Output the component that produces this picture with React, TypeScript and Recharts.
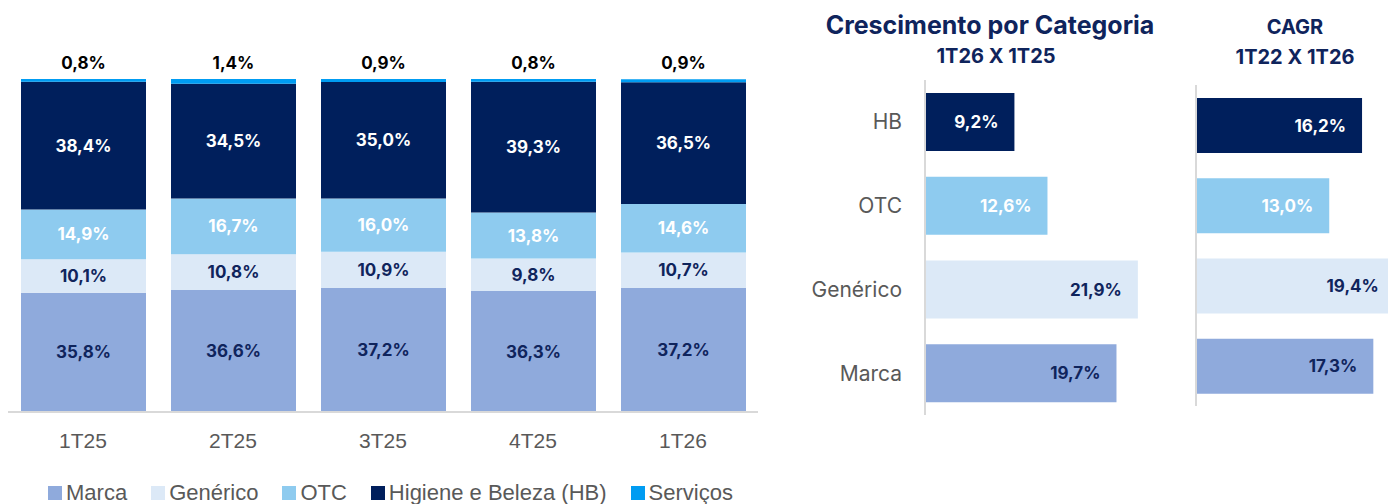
import { Bar, BarChart, Cell, LabelList, XAxis, YAxis } from "recharts";

const quarters = ["1T25", "2T25", "3T25", "4T25", "1T26"];
const marca = [35.8, 36.6, 37.2, 36.3, 37.2];
const generico = [10.1, 10.8, 10.9, 9.8, 10.7];
const otc = [14.9, 16.7, 16.0, 13.8, 14.6];
const hb = [38.4, 34.5, 35.0, 39.3, 36.5];
const servicos = [0.8, 1.4, 0.9, 0.8, 0.9];

const growthCats = ["HB", "OTC", "Genérico", "Marca"];
const growth = [9.2, 12.6, 21.9, 19.7];
const cagr = [16.2, 13.0, 19.4, 17.3];

const C_MARCA = "#8faadc";
const C_GEN = "#dce9f7";
const C_OTC = "#8ecbef";
const C_HB = "#001f5c";
const C_SERV = "#009cf2";
const NAVY = "#0f245c";
const catColors = [C_HB, C_OTC, C_GEN, C_MARCA];
const catText = ["#ffffff", "#ffffff", NAVY, NAVY];

const FONT = "Inter, 'Noto Sans', sans-serif";
const TICK_FONT = "'Liberation Sans', Arial, sans-serif";

const fmt = (v: any) => Number(v).toFixed(1).replace(".", ",") + "%";

const mixData = quarters.map((q, i) => ({
  q,
  marca: marca[i],
  generico: generico[i],
  otc: otc[i],
  hb: hb[i],
  servicos: servicos[i],
}));
const growthData = growthCats.map((c, i) => ({ cat: c, v: growth[i] }));
const cagrData = growthCats.map((c, i) => ({ cat: c, v: cagr[i] }));

const labelStyle = { fontFamily: FONT, fontWeight: 700, fontSize: 17 };

function endLabel(props: any) {
  const { x, y, width, height, value, index } = props;
  return (
    <text
      x={x + width - 16}
      y={y + height / 2}
      textAnchor="end"
      dominantBaseline="central"
      fill={catText[index]}
      style={labelStyle}
    >
      {fmt(value)}
    </text>
  );
}

const legendItems = [
  { name: "Marca", color: C_MARCA },
  { name: "Genérico", color: C_GEN },
  { name: "OTC", color: C_OTC },
  { name: "Higiene e Beleza (HB)", color: C_HB },
  { name: "Serviços", color: C_SERV },
];

export default function App() {
  return (
    <div
      style={{
        position: "fixed",
        left: 0,
        top: 0,
        width: 1388,
        height: 504,
        overflow: "hidden",
        background: "#fff",
      }}
    >
      {/* mix por trimestre */}
      <div style={{ position: "absolute", left: 0, top: 0 }}>
        <BarChart
          width={765}
          height={504}
          data={mixData}
          margin={{ top: 79, right: 7, left: 8, bottom: 62 }}
          barSize={125}
        >
          <XAxis
            dataKey="q"
            height={30}
            tickLine={false}
            tickSize={0}
            tickMargin={21}
            axisLine={{ stroke: "#d9d9d9", strokeWidth: 2 }}
            tick={{ fill: "#595959", fontSize: 21, fontFamily: TICK_FONT }}
          />
          <YAxis hide domain={[0, 100]} />
          <Bar dataKey="marca" stackId="a" fill={C_MARCA} isAnimationActive={false}>
            <LabelList dataKey="marca" position="center" formatter={fmt} fill={NAVY} style={labelStyle} />
          </Bar>
          <Bar dataKey="generico" stackId="a" fill={C_GEN} isAnimationActive={false}>
            <LabelList dataKey="generico" position="center" formatter={fmt} fill={NAVY} style={labelStyle} />
          </Bar>
          <Bar dataKey="otc" stackId="a" fill={C_OTC} isAnimationActive={false}>
            <LabelList dataKey="otc" position="center" formatter={fmt} fill="#fff" style={labelStyle} />
          </Bar>
          <Bar dataKey="hb" stackId="a" fill={C_HB} isAnimationActive={false}>
            <LabelList dataKey="hb" position="center" formatter={fmt} fill="#fff" style={labelStyle} />
          </Bar>
          <Bar dataKey="servicos" stackId="a" fill={C_SERV} isAnimationActive={false}>
            <LabelList dataKey="servicos" position="top" offset={10} formatter={fmt} fill="#000" style={labelStyle} />
          </Bar>
        </BarChart>
      </div>

      {/* legenda */}
      <div
        style={{
          position: "absolute",
          left: 48,
          top: 480,
          display: "flex",
          alignItems: "center",
          fontFamily: TICK_FONT,
          fontSize: 22,
          color: "#595959",
          whiteSpace: "nowrap",
        }}
      >
        {legendItems.map((it) => (
          <div key={it.name} style={{ display: "flex", alignItems: "center", marginRight: 24 }}>
            <span style={{ width: 14, height: 14, background: it.color, display: "inline-block", marginRight: 4 }} />
            <span>{it.name}</span>
          </div>
        ))}
      </div>

      {/* crescimento por categoria */}
      <div
        style={{
          position: "absolute",
          left: 790,
          top: 8,
          width: 400,
          textAlign: "center",
          fontFamily: FONT,
          fontWeight: 700,
          color: NAVY,
        }}
      >
        <div style={{ fontSize: 25, lineHeight: "34px" }}>Crescimento por Categoria</div>
        <div style={{ fontSize: 20, lineHeight: "28px", marginLeft: 12 }}>1T26 X 1T25</div>
      </div>
      <div style={{ position: "absolute", left: 800, top: 0 }}>
        <BarChart
          layout="vertical"
          width={368}
          height={504}
          data={growthData}
          margin={{ top: 80, right: 0, left: 0, bottom: 89 }}
          barSize={58}
        >
          <XAxis type="number" hide domain={[0, 25]} />
          <YAxis
            type="category"
            dataKey="cat"
            width={125}
            tickLine={false}
            tickSize={0}
            tickMargin={23}
            axisLine={{ stroke: "#d9d9d9", strokeWidth: 2 }}
            tick={{ fill: "#595959", fontSize: 21, fontFamily: FONT }}
          />
          <Bar dataKey="v" isAnimationActive={false}>
            {growthData.map((d, i) => (
              <Cell key={d.cat} fill={catColors[i]} />
            ))}
            <LabelList dataKey="v" content={endLabel} />
          </Bar>
        </BarChart>
      </div>

      {/* CAGR */}
      <div
        style={{
          position: "absolute",
          left: 1195,
          top: 11,
          width: 200,
          textAlign: "center",
          fontFamily: FONT,
          fontWeight: 700,
          color: NAVY,
        }}
      >
        <div style={{ fontSize: 20, lineHeight: "32px" }}>CAGR</div>
        <div style={{ fontSize: 20, lineHeight: "28px" }}>1T22 X 1T26</div>
      </div>
      <div style={{ position: "absolute", left: 1194, top: 0 }}>
        <BarChart
          layout="vertical"
          width={207}
          height={504}
          data={cagrData}
          margin={{ top: 85, right: 0, left: 0, bottom: 98 }}
          barSize={55}
        >
          <XAxis type="number" hide domain={[0, 20]} />
          <YAxis
            type="category"
            dataKey="cat"
            width={2}
            tick={false}
            tickLine={false}
            axisLine={{ stroke: "#d9d9d9", strokeWidth: 2 }}
          />
          <Bar dataKey="v" isAnimationActive={false}>
            {cagrData.map((d, i) => (
              <Cell key={d.cat} fill={catColors[i]} />
            ))}
            <LabelList dataKey="v" content={endLabel} />
          </Bar>
        </BarChart>
      </div>
    </div>
  );
}
